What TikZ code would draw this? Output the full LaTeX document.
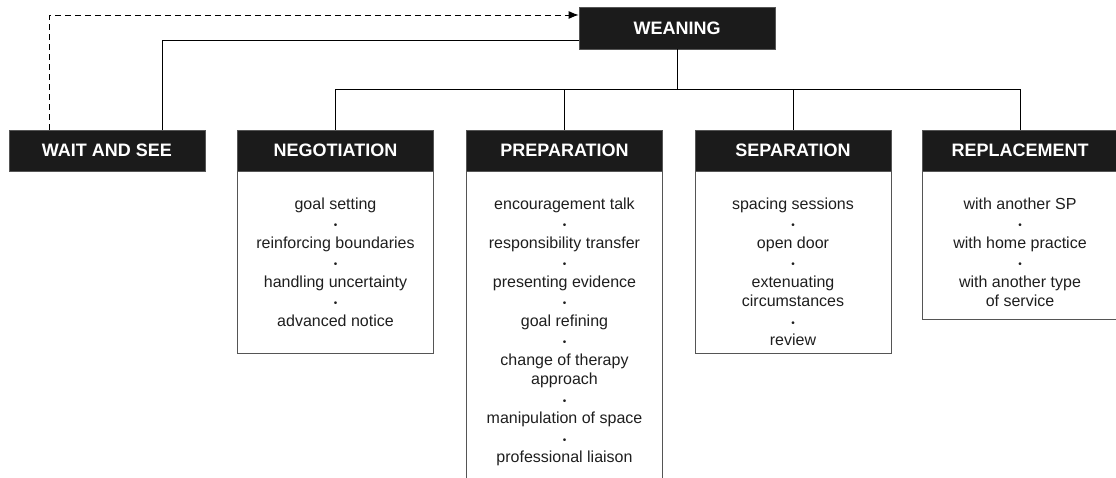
\documentclass[tikz,border=0pt]{standalone}
\usepackage{fontspec}
\setmainfont{Liberation Sans}
\usetikzlibrary{arrows.meta}
\definecolor{headfill}{HTML}{1B1B1B}
\definecolor{boxline}{HTML}{555555}
\definecolor{bodytext}{HTML}{1E1E1E}
\tikzset{
  head/.style={draw=boxline, fill=headfill, text=white, line width=0.8pt,
    font=\bfseries\fontsize{18}{20}\selectfont,
    minimum width=196pt, minimum height=41pt, inner sep=0pt},
  itembox/.style={draw=boxline, line width=0.8pt, minimum width=196pt,
    anchor=north, inner sep=0pt},
  items/.style={text=bodytext, font=\fontsize{16}{19.5}\selectfont,
    align=center, anchor=north, inner sep=0pt},
  link/.style={line width=0.9pt}
}
\newcommand{\itemdot}{\\{\normalsize\textbullet}\\}
\begin{document}
\begin{tikzpicture}
\useasboundingbox (0pt,0pt) rectangle (1116pt,478pt);
\clip (0pt,0pt) rectangle (1116pt,478pt);
%top
\node[head, minimum height=42pt] (weaning) at (677pt,450pt) {WEANING};
%stages
\node[head] (wait) at (107pt,327.5pt) {WAIT AND SEE};
\node[head] (nego) at (335.5pt,327.5pt) {NEGOTIATION};
\node[head] (prep) at (564.5pt,327.5pt) {PREPARATION};
\node[head] (sep)  at (793pt,327.5pt) {SEPARATION};
\node[head] (repl) at (1020pt,327.5pt) {REPLACEMENT};
%boxes
\node[itembox, minimum height=182pt] (negobox) at (nego.south) {};
\node[itembox, minimum height=330pt] (prepbox) at (prep.south) {};
\node[itembox, minimum height=182pt] (sepbox)  at (sep.south) {};
\node[itembox, minimum height=148pt] (replbox) at (repl.south) {};
%items
\node[items] (negotext) at ([yshift=-26pt]negobox.north)
  {goal setting\itemdot reinforcing boundaries\itemdot handling uncertainty\itemdot advanced notice};
\node[items] (preptext) at ([yshift=-26pt]prepbox.north)
  {encouragement talk\itemdot responsibility transfer\itemdot presenting evidence\itemdot goal refining\itemdot change of therapy\\approach\itemdot manipulation of space\itemdot professional liaison};
\node[items] (septext) at ([yshift=-26pt]sepbox.north)
  {spacing sessions\itemdot open door\itemdot extenuating\\circumstances\itemdot review};
\node[items] (repltext) at ([yshift=-26pt]replbox.north)
  {with another SP\itemdot with home practice\itemdot with another type\\of service};
%wait and see
\draw[link, dash pattern=on 6pt off 4pt, -{Latex[length=10pt,width=8pt]}]
  ([xshift=41pt]wait.north west) |- ([yshift=13pt]weaning.west);
\draw[link] ([xshift=154pt]wait.north west) |- ([yshift=-12pt]weaning.west);
%tree
\draw[link] (weaning.south) -- +(0,-40pt) coordinate (bus);
\foreach \n in {nego,prep,sep,repl}
  \draw[link] (bus) -| (\n.north);
\end{tikzpicture}
\end{document}
